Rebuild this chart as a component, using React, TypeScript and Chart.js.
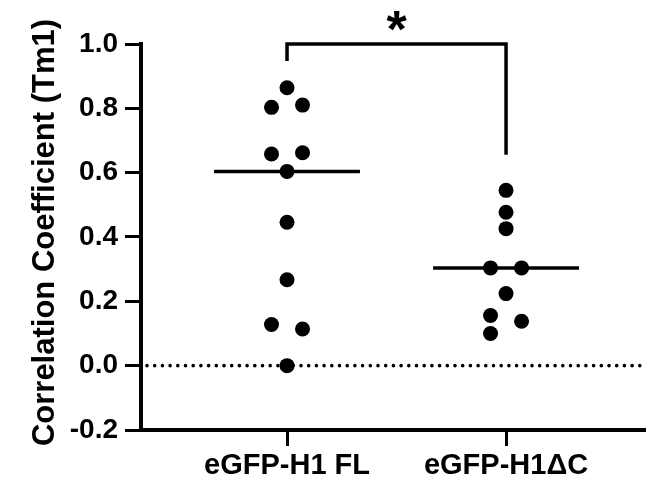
import React, { useEffect, useRef } from "react";
import { Chart, registerables } from "chart.js";

Chart.register(...registerables);

const categories = ["eGFP-H1 FL", "eGFP-H1\u0394C"];
const flValues = [0.864, 0.803, 0.81, 0.658, 0.662, 0.604, 0.446, 0.267, 0.128, 0.114, 0.0];
const flSlots = [0, -1, 1, -1, 1, 0, 0, 0, -1, 1, 0];
const dcValues = [0.545, 0.477, 0.426, 0.304, 0.304, 0.224, 0.156, 0.138, 0.1];
const dcSlots = [0, 0, 0, -1, 1, 0, -1, 1, -1];
const yTicks = [-0.2, 0.0, 0.2, 0.4, 0.6, 0.8, 1.0];
const yTitle = "Correlation Coefficient (Tm1)";
const sigLabel = "*";
const bracketLeftEnd = 0.947;
const bracketTop = 1.0;
const bracketRightEnd = 0.656;

const JITTER = 0.0708;
const HALF = 0.333;
const FONT = "'Liberation Sans', Arial, sans-serif";

function median(a: number[]) {
  const s = [...a].sort((x, y) => x - y);
  const m = Math.floor(s.length / 2);
  return s.length % 2 ? s[m] : (s[m - 1] + s[m]) / 2;
}

const overlay = {
  id: "overlay",
  beforeDatasetsDraw(chart: any) {
    const { ctx, chartArea, scales } = chart;
    const y0 = scales.y.getPixelForValue(0);
    ctx.save();
    ctx.strokeStyle = "#000";
    ctx.lineWidth = 3.6;
    ctx.lineCap = "round";
    ctx.setLineDash([0, 7.7]);
    ctx.beginPath();
    ctx.moveTo(chartArea.left + 6, y0);
    ctx.lineTo(chartArea.right, y0);
    ctx.stroke();
    ctx.restore();
  },
  afterDraw(chart: any) {
    const { ctx, scales, chartArea } = chart;
    const x1 = scales.x.getPixelForValue(1);
    const x2 = scales.x.getPixelForValue(2);
    const yt = scales.y.getPixelForValue(bracketTop);
    const yl = scales.y.getPixelForValue(bracketLeftEnd);
    const yr = scales.y.getPixelForValue(bracketRightEnd);
    ctx.save();
    ctx.strokeStyle = "#000";
    ctx.lineWidth = 3.5;
    ctx.lineCap = "butt";
    ctx.lineJoin = "miter";
    ctx.beginPath();
    ctx.moveTo(x1, yl);
    ctx.lineTo(x1, yt);
    ctx.lineTo(x2, yt);
    ctx.lineTo(x2, yr);
    ctx.stroke();
    ctx.fillStyle = "#000";
    ctx.font = `bold 52px ${FONT}`;
    ctx.textAlign = "center";
    ctx.textBaseline = "alphabetic";
    ctx.fillText(sigLabel, (x1 + x2) / 2, yt + 3);

    // y-axis title
    const cy = (chartArea.top + chartArea.bottom) / 2 - 4.5;
    ctx.translate(53.5, cy);
    ctx.rotate(-Math.PI / 2);
    ctx.font = `bold 31px ${FONT}`;
    ctx.textAlign = "center";
    ctx.textBaseline = "alphabetic";
    ctx.fillText(yTitle, 0, 0);
    ctx.restore();
  },
};

export default function App() {
  const ref = useRef<HTMLCanvasElement>(null);
  useEffect(() => {
    if (!ref.current) return;
    const groups = [flValues, dcValues];
    const slots = [flSlots, dcSlots];
    const pointSets = groups.map((vals, gi) => ({
      type: "scatter" as const,
      data: vals.map((v, i) => ({ x: gi + 1 + slots[gi][i] * JITTER, y: v })),
      backgroundColor: "#000",
      borderColor: "#000",
      pointRadius: 7.5,
      pointHoverRadius: 7.5,
      borderWidth: 0,
      order: 1,
    }));
    const medianSets = groups.map((vals, gi) => {
      const m = median(vals);
      return {
        type: "line" as const,
        data: [
          { x: gi + 1 - HALF, y: m },
          { x: gi + 1 + HALF, y: m },
        ],
        borderColor: "#000",
        borderWidth: 3.5,
        pointRadius: 0,
        showLine: true,
        fill: false,
        order: 2,
      };
    });
    const tickFont = { family: FONT, size: 28, weight: "bold" as const };
    const xFont = { family: FONT, size: 29, weight: "bold" as const };
    const chart = new Chart(ref.current, {
      type: "scatter",
      data: { datasets: [...medianSets, ...pointSets] as any },
      options: {
        animation: false,
        responsive: false,
        events: [],
        layout: { autoPadding: false, padding: { top: 44, left: 0, right: 0, bottom: 0 } },
        plugins: { legend: { display: false }, tooltip: { enabled: false } },
        scales: {
          x: {
            type: "linear",
            min: 0.3333,
            max: 2.639,
            afterBuildTicks: (axis: any) => {
              axis.ticks = categories.map((_, i) => ({ value: i + 1 }));
            },
            afterFit: (axis: any) => {
              axis.height = 56;
            },
            ticks: {
              autoSkip: false,
              maxRotation: 0,
              padding: 3,
              color: "#000",
              font: xFont,
              callback: (v: any) => categories[Number(v) - 1] ?? "",
            },
            grid: {
              display: true,
              drawOnChartArea: false,
              drawTicks: true,
              tickLength: 16,
              lineWidth: 3,
              color: "#000",
            },
            border: { display: true, width: 4, color: "#000" },
          },
          y: {
            type: "linear",
            min: -0.2,
            max: 1.0,
            afterBuildTicks: (axis: any) => {
              axis.ticks = yTicks.map((v) => ({ value: v }));
            },
            afterFit: (axis: any) => {
              axis.width = 141;
            },
            ticks: {
              padding: 7,
              color: "#000",
              font: tickFont,
              callback: (v: any) => Number(v).toFixed(1),
            },
            grid: {
              display: true,
              drawOnChartArea: false,
              drawTicks: true,
              tickLength: 16,
              lineWidth: 3,
              color: "#000",
            },
            border: { display: true, width: 4, color: "#000" },
          },
        },
      },
      plugins: [overlay],
    });
    return () => chart.destroy();
  }, []);
  return (
    <div style={{ position: "fixed", left: 0, top: 0, width: 646, height: 486, background: "#fff" }}>
      <canvas ref={ref} width={646} height={486} style={{ display: "block" }} />
    </div>
  );
}
